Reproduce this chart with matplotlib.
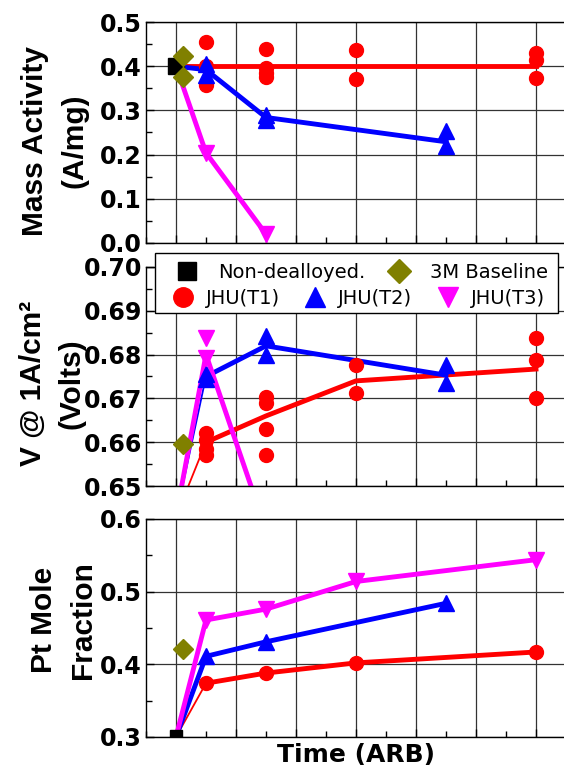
import numpy as np
import matplotlib.pyplot as plt
from matplotlib.lines import Line2D
from matplotlib.patches import Rectangle
from matplotlib.ticker import MultipleLocator, FormatStrFormatter

# time positions (arb. units)
t_nd = 0.0
t_3m = 0.22
t_t1 = [0, 1, 3, 6, 12]
t_t2 = [0, 1, 3, 9]
t_t3 = [0, 1, 3]
t_t3_pt = [0, 1, 3, 6, 12]

# mass activity (A/mg)
ma_nd = 0.40
ma_3m = [0.424, 0.375]
ma_t1_x = [1, 1, 1, 3, 3, 3, 3, 6, 6, 12, 12, 12]
ma_t1 = [0.455, 0.40, 0.357, 0.44, 0.395, 0.385, 0.375, 0.437, 0.371, 0.430, 0.414, 0.373]
ma_t1_line = [0.40, 0.40, 0.40, 0.40, 0.40]
ma_t2_x = [1, 1, 3, 3, 9, 9]
ma_t2 = [0.405, 0.38, 0.29, 0.278, 0.253, 0.219]
ma_t2_line = [0.40, 0.392, 0.284, 0.229]
ma_t3_x = [1, 3]
ma_t3 = [0.204, 0.02]
ma_t3_line = [0.40, 0.204, 0.02]

# cell voltage at 1 A/cm2
v_3m = 0.6597
v_t1_x = [1, 1, 1, 1, 3, 3, 3, 3, 6, 6, 12, 12, 12]
v_t1 = [0.662, 0.6605, 0.6585, 0.657, 0.6703, 0.669, 0.663, 0.657, 0.6776, 0.6712, 0.6838, 0.6788, 0.670]
v_t1_line = [0.643, 0.660, 0.666, 0.674, 0.6767]
v_t2_x = [1, 1, 3, 3, 9, 9]
v_t2 = [0.6755, 0.6745, 0.6842, 0.680, 0.6776, 0.6735]
v_t2_line = [0.643, 0.675, 0.682, 0.6753]
v_t3_x = [1, 1]
v_t3 = [0.6838, 0.6792]
v_t3_line = [0.643, 0.680, 0.640]

# Pt mole fraction
pt_nd = 0.302
pt_3m = 0.421
pt_t1 = [0.30, 0.374, 0.388, 0.402, 0.417]
pt_t2 = [0.30, 0.411, 0.431, 0.484]
pt_t3 = [0.30, 0.461, 0.476, 0.514, 0.544]

RED, BLUE, MAG, OLIVE = '#ff0000', '#0000ff', '#ff00ff', '#808000'
LW, LW_THIN, MS = 3.5, 1.3, 10
LAB = dict(fontsize=21.5, fontweight='bold', family='Liberation Sans',
           linespacing=1.5)

fig = plt.figure(figsize=(5.64, 7.75), dpi=100)
W, H = 564.0, 775.0
ax1 = fig.add_axes([146 / W, 1 - 243 / H, 420 / W, 221 / H])
ax2 = fig.add_axes([146 / W, 1 - 486 / H, 420 / W, 219 / H])
ax3 = fig.add_axes([146 / W, 1 - 737 / H, 420 / W, 218 / H])


def style(ax, lo, hi, major, fmt):
    ax.set_xlim(-1, 13)
    ax.set_ylim(lo, hi)
    ax.xaxis.set_major_locator(MultipleLocator(2))
    ax.xaxis.set_minor_locator(MultipleLocator(1))
    ax.yaxis.set_major_locator(MultipleLocator(major))
    ax.yaxis.set_minor_locator(MultipleLocator(major / 2))
    ax.yaxis.set_major_formatter(FormatStrFormatter(fmt))
    ax.tick_params(which='both', direction='in', top=False, right=False,
                   labelbottom=False, width=1)
    ax.tick_params(which='major', length=6, labelsize=17, pad=3)
    ax.tick_params(which='minor', length=4)
    for t in ax.get_yticklabels():
        t.set_fontweight('bold')
    ax.grid(True, which='major', color='#333333', lw=0.9)
    ax.set_axisbelow(True)
    for s in ax.spines.values():
        s.set_linewidth(1.0)


def seg_line(ax, x, y, color, thin_first):
    # first segment (from the non-dealloyed start) optionally thinner
    ax.plot(x[:2], y[:2], color=color, lw=LW_THIN if thin_first else LW,
            solid_capstyle='butt', zorder=2)
    ax.plot(x[1:], y[1:], color=color, lw=LW, zorder=2)


# --- mass activity ---
style(ax1, 0.0, 0.5, 0.1, '%.1f')
ax1.plot(t_t1, ma_t1_line, color=RED, lw=LW, zorder=2)
ax1.plot(t_t2, ma_t2_line, color=BLUE, lw=LW, zorder=2)
ax1.plot(t_t3, ma_t3_line, color=MAG, lw=LW, zorder=2)
ax1.plot(ma_t1_x, ma_t1, 'o', color=RED, ms=MS, zorder=3)
ax1.plot(ma_t2_x, ma_t2, '^', color=BLUE, ms=MS + 1, zorder=3)
ax1.plot(ma_t3_x, ma_t3, 'v', color=MAG, ms=MS + 1, zorder=3)
ax1.plot([t_nd], [ma_nd], 's', color='black', ms=MS + 1, zorder=3)
ax1.plot([t_3m] * len(ma_3m), ma_3m, 'D', color=OLIVE, ms=MS, zorder=4)
ax1.set_ylabel('Mass Activity\n(A/mg)', **LAB)
ax1.yaxis.set_label_coords(-0.138, 0.462)

# --- voltage ---
style(ax2, 0.65, 0.70, 0.01, '%.2f')
seg_line(ax2, t_t1, v_t1_line, RED, True)
seg_line(ax2, t_t2, v_t2_line, BLUE, True)
seg_line(ax2, t_t3, v_t3_line, MAG, False)
ax2.plot(v_t1_x, v_t1, 'o', color=RED, ms=MS, zorder=3)
ax2.plot(v_t2_x, v_t2, '^', color=BLUE, ms=MS + 1, zorder=3)
ax2.plot(v_t3_x, v_t3, 'v', color=MAG, ms=MS + 1, zorder=3)
ax2.plot([t_3m], [v_3m], 'D', color=OLIVE, ms=MS, zorder=4)
ax2.set_ylabel('V @ 1A/cm²\n(Volts)', **LAB)
ax2.yaxis.set_label_coords(-0.143, 0.467)

# --- Pt mole fraction ---
style(ax3, 0.3, 0.6, 0.1, '%.1f')
seg_line(ax3, t_t1, pt_t1, RED, True)
seg_line(ax3, t_t2, pt_t2, BLUE, False)
seg_line(ax3, t_t3_pt, pt_t3, MAG, False)
ax3.plot(t_t1[1:], pt_t1[1:], 'o', color=RED, ms=MS, zorder=3)
ax3.plot(t_t2[1:], pt_t2[1:], '^', color=BLUE, ms=MS + 1, zorder=3)
ax3.plot(t_t3_pt[1:], pt_t3[1:], 'v', color=MAG, ms=MS + 1, zorder=3)
ax3.plot([t_nd], [pt_nd], 's', color='black', ms=8, zorder=4)
ax3.plot([t_3m], [pt_3m], 'D', color=OLIVE, ms=MS, zorder=4)
ax3.set_ylabel('Pt Mole\nFraction', **LAB)
ax3.yaxis.set_label_coords(-0.117, 0.537)
ax3.set_xlabel('Time (ARB)', fontsize=18, fontweight='bold', labelpad=4)

# legend: two rows inside one frame on the voltage panel
h_nd = Line2D([], [], ls='none', marker='s', color='black', ms=13)
h_3m = Line2D([], [], ls='none', marker='D', color=OLIVE, ms=12)
h_t1 = Line2D([], [], ls='none', marker='o', color=RED, ms=14)
h_t2 = Line2D([], [], ls='none', marker='^', color=BLUE, ms=15)
h_t3 = Line2D([], [], ls='none', marker='v', color=MAG, ms=15)

frame = Rectangle((0.021, 0.790), 0.960, 0.274, transform=ax2.transAxes,
                  facecolor='white', edgecolor='black', lw=1.0,
                  clip_on=False, zorder=6)
ax2.add_patch(frame)
leg1 = ax2.legend([h_nd, h_3m], ['Non-dealloyed.', '3M Baseline'], ncol=2,
                  loc='center left', bbox_to_anchor=(0.074, 0.977),
                  frameon=False, fontsize=14, handlelength=1.0,
                  handletextpad=1.1, columnspacing=1.24, borderpad=0,
                  borderaxespad=0)
leg1.set_zorder(7)
ax2.add_artist(leg1)
leg2 = ax2.legend([h_t1, h_t2, h_t3], ['JHU(T1)', 'JHU(T2)', 'JHU(T3)'],
                  ncol=3, loc='center left', bbox_to_anchor=(0.064, 0.858),
                  frameon=False, fontsize=14, handlelength=1.0,
                  handletextpad=0.7, columnspacing=1.3, borderpad=0,
                  borderaxespad=0)
leg2.set_zorder(7)

fig.savefig('out.png', dpi=100)
